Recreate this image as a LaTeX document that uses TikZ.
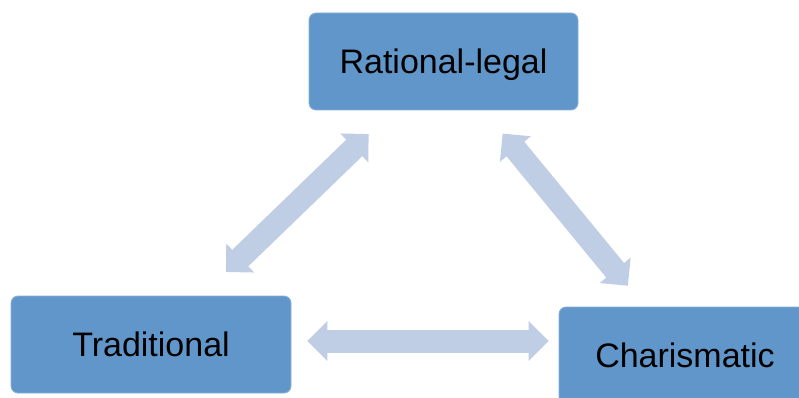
\documentclass[tikz,border=0pt]{standalone}
\usepackage{fontspec}
\setmainfont{Liberation Sans}
\usetikzlibrary{arrows.meta}
\definecolor{boxblue}{HTML}{6096C9}
\definecolor{linkblue}{HTML}{BFCEE4}

\begin{document}
\begin{tikzpicture}[x=1pt, y=-1pt,
	box/.style={draw=boxblue!75!white, line width=0.8pt, fill=boxblue, rounded corners=7pt, minimum height=97pt, inner sep=0pt, text height=24.5pt, text depth=0pt, font=\fontsize{34}{40}\selectfont},
	link/.style={draw=linkblue, line width=23pt, {Triangle[width=39pt,length=20pt]}-{Triangle[width=39pt,length=20pt]}}]
	\useasboundingbox (0,0) rectangle (799,398);
	\node [box, minimum width=269pt] (rational) at (443.5,61.5) {Rational-legal};
	\node [box, minimum width=280pt] (traditional) at (151,344.5) {Traditional};
	\node [box, minimum width=252pt] (charismatic) at (685,355.5) {Charismatic};
	\draw [link, shorten <=34pt, shorten >=34pt] (rational) -- (traditional);
	\draw [link, shorten <=30pt, shorten >=27pt] (rational) -- (charismatic);
	\draw [link, shorten <=16pt, shorten >=10pt] ([yshift=3.5pt]traditional.east) -- ([yshift=3.5pt]traditional.east -| charismatic.west);
\end{tikzpicture}
\end{document}
